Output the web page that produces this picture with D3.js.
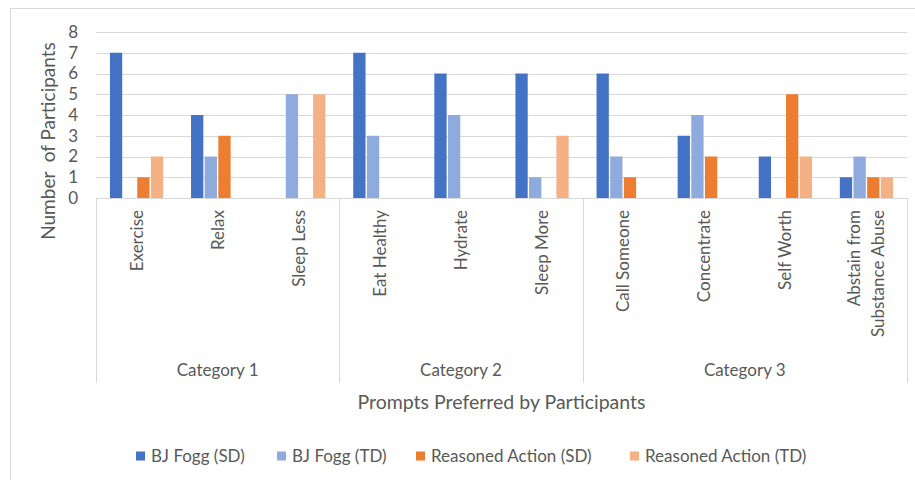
<!DOCTYPE html>
<meta charset="utf-8">
<style>
    body { margin: 0; background: #fff; }
    text { font-family: Lato, "Open Sans", sans-serif; fill: #595959; }
</style>
<svg width="915" height="480"></svg>
<script src="https://d3js.org/d3.v7.min.js"></script>
<script>

var prompts = ["Exercise", "Relax", "Sleep Less", "Eat Healthy", "Hydrate", "Sleep More",
               "Call Someone", "Concentrate", "Self Worth", "Abstain from|Substance Abuse"];
var groups = [
    {name: "Category 1", first: 0, last: 2},
    {name: "Category 2", first: 3, last: 5},
    {name: "Category 3", first: 6, last: 9}
];
var seriesNames = ["BJ Fogg (SD)", "BJ Fogg (TD)", "Reasoned Action (SD)", "Reasoned Action (TD)"];
var colors = ["#4472c4", "#8faadc", "#ed7d31", "#f4b183"];

var bjFoggSD       = [7, 4, 0, 7, 6, 6, 6, 3, 2, 1];
var bjFoggTD       = [0, 2, 5, 3, 4, 1, 2, 4, 0, 2];
var reasonedSD     = [1, 3, 0, 0, 0, 0, 1, 2, 5, 1];
var reasonedTD     = [2, 0, 5, 0, 0, 3, 0, 0, 2, 1];
var yTicks = [0, 1, 2, 3, 4, 5, 6, 7, 8];

var series = [bjFoggSD, bjFoggTD, reasonedSD, reasonedTD];

var svg = d3.select("svg");
var plot = {left: 96, right: 907, top: 32, bottom: 198};

// chart frame (only top and left show in the picture)
svg.append("rect")
    .attr("x", 10.5).attr("y", 8.5)
    .attr("width", 1000).attr("height", 1000)
    .attr("fill", "none").attr("stroke", "#d9d9d9");

var x = d3.scaleBand().domain(d3.range(prompts.length))
    .range([plot.left, plot.right]).paddingInner(0.31).paddingOuter(0.155);
var xs = d3.scaleBand().domain(d3.range(series.length))
    .range([0, x.bandwidth()]).padding(0.1);
var y = d3.scaleLinear().domain([0, 8]).range([plot.bottom, plot.top]);

// gridlines
svg.append("g").selectAll("line")
    .data(yTicks.slice(1))
    .enter().append("line")
    .attr("x1", plot.left).attr("x2", plot.right)
    .attr("y1", function(d) { return Math.round(y(d)) + 0.5; })
    .attr("y2", function(d) { return Math.round(y(d)) + 0.5; })
    .attr("stroke", "#d9d9d9").attr("stroke-width", 1);

// y tick labels
svg.append("g").selectAll("text")
    .data(yTicks)
    .enter().append("text")
    .attr("x", 78)
    .attr("y", function(d) { return y(d); })
    .attr("dy", "0.35em")
    .attr("text-anchor", "end")
    .style("font-size", "17px")
    .text(function(d) { return d; });

// bars
series.forEach(function(vals, s) {
    svg.append("g").selectAll("rect")
        .data(vals)
        .enter().append("rect")
        .attr("x", function(d, i) { return x(i) + xs(s); })
        .attr("y", function(d) { return y(d); })
        .attr("width", xs.bandwidth())
        .attr("height", function(d) { return y(0) - y(d); })
        .attr("fill", colors[s]);
});

// x axis line and group separators
var xStep = x.step();
svg.append("line")
    .attr("x1", plot.left).attr("x2", plot.right)
    .attr("y1", plot.bottom + 0.5).attr("y2", plot.bottom + 0.5)
    .attr("stroke", "#d9d9d9");

var seps = [plot.left].concat(groups.map(function(g) { return plot.left + (g.last + 1) * xStep; }));
svg.append("g").selectAll("line")
    .data(seps)
    .enter().append("line")
    .attr("x1", function(d) { return Math.round(d) + 0.5; })
    .attr("x2", function(d) { return Math.round(d) + 0.5; })
    .attr("y1", plot.bottom).attr("y2", 383)
    .attr("stroke", "#d9d9d9");

// rotated prompt labels
var lab = svg.append("g").selectAll("text")
    .data(prompts)
    .enter().append("text")
    .attr("transform", function(d, i) {
        return "translate(" + (x(i) + x.bandwidth() / 2) + ",210) rotate(-90)";
    })
    .attr("text-anchor", "end")
    .style("font-size", "17px");
lab.each(function(d) {
    var lines = d.split("|");
    var t = d3.select(this);
    lines.forEach(function(l, k) {
        t.append("tspan")
            .attr("x", 0)
            .attr("y", (k - (lines.length - 1) / 2) * 24)
            .attr("dy", "0.35em")
            .text(l);
    });
});

// category labels
svg.append("g").selectAll("text")
    .data(groups)
    .enter().append("text")
    .attr("x", function(g) { return plot.left + (g.first + (g.last - g.first + 1) / 2) * xStep; })
    .attr("y", 370)
    .attr("dy", "0.35em")
    .attr("text-anchor", "middle")
    .style("font-size", "17px")
    .text(function(g) { return g.name; });

// axis titles
svg.append("text")
    .attr("x", (plot.left + plot.right) / 2)
    .attr("y", 402)
    .attr("dy", "0.35em")
    .attr("text-anchor", "middle")
    .style("font-size", "19.5px")
    .text("Prompts Preferred by Participants");

svg.append("text")
    .attr("transform", "translate(48,141) rotate(-90)")
    .attr("dy", "0.35em")
    .attr("text-anchor", "middle")
    .style("font-size", "19px")
    .style("white-space", "pre")
    .attr("xml:space", "preserve")
    .text("Number  of Participants");

// legend
var legendX = [136, 277, 416, 630];
var leg = svg.append("g").selectAll("g")
    .data(seriesNames)
    .enter().append("g")
    .attr("transform", function(d, i) { return "translate(" + legendX[i] + ",456)"; });
leg.append("rect")
    .attr("x", 0).attr("y", -4.5)
    .attr("width", 9).attr("height", 9)
    .attr("fill", function(d, i) { return colors[i]; });
leg.append("text")
    .attr("x", 15)
    .attr("dy", "0.35em")
    .style("font-size", "17px")
    .text(function(d) { return d; });

</script>
